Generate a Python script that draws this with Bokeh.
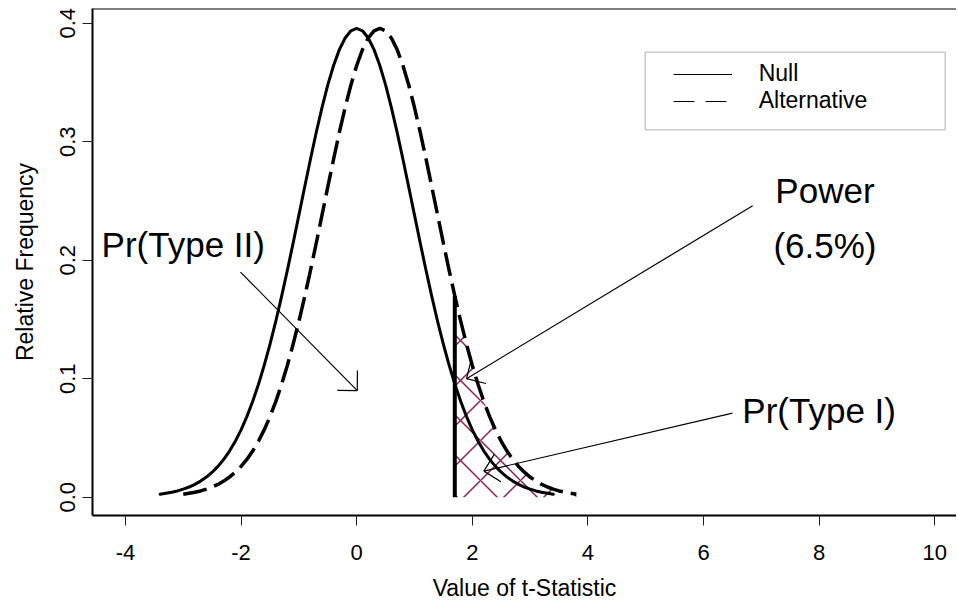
import math
from bokeh.plotting import figure
from bokeh.models import (Range1d, FixedTicker, PrintfTickFormatter, Legend, LegendItem,
                          BoxAnnotation, Span)
from bokeh.embed import file_html
from bokeh.resources import INLINE
from bokeh.core.properties import value

# ---------------- data ----------------
null_x = [round(-3.4 + 0.1 * i, 1) for i in range(69)]
null_density = [0.0025, 0.0033, 0.0042, 0.0053, 0.0068, 0.0086, 0.0108, 0.0136, 0.0170, 0.0211,
                0.0260, 0.0319, 0.0389, 0.0472, 0.0568, 0.0680, 0.0807, 0.0951, 0.1112, 0.1290,
                0.1483, 0.1692, 0.1913, 0.2143, 0.2380, 0.2618, 0.2852, 0.3078, 0.3288, 0.3479,
                0.3643, 0.3777, 0.3875, 0.3936, 0.3956, 0.3936, 0.3875, 0.3777, 0.3643, 0.3479,
                0.3288, 0.3078, 0.2852, 0.2618, 0.2380, 0.2143, 0.1913, 0.1692, 0.1483, 0.1290,
                0.1112, 0.0951, 0.0807, 0.0680, 0.0568, 0.0472, 0.0389, 0.0319, 0.0260, 0.0211,
                0.0170, 0.0136, 0.0108, 0.0086, 0.0068, 0.0053, 0.0042, 0.0033, 0.0025]

alt_x = [round(-3.0 + 0.1 * i, 1) for i in range(69)]
alt_density = [0.0025, 0.0033, 0.0042, 0.0053, 0.0068, 0.0086, 0.0108, 0.0136, 0.0170, 0.0211,
               0.0260, 0.0319, 0.0389, 0.0472, 0.0568, 0.0680, 0.0807, 0.0951, 0.1112, 0.1290,
               0.1483, 0.1692, 0.1913, 0.2143, 0.2380, 0.2618, 0.2852, 0.3078, 0.3288, 0.3479,
               0.3643, 0.3777, 0.3875, 0.3936, 0.3956, 0.3936, 0.3875, 0.3777, 0.3643, 0.3479,
               0.3288, 0.3078, 0.2852, 0.2618, 0.2380, 0.2143, 0.1913, 0.1692, 0.1483, 0.1290,
               0.1112, 0.0951, 0.0807, 0.0680, 0.0568, 0.0472, 0.0389, 0.0319, 0.0260, 0.0211,
               0.0170, 0.0136, 0.0108, 0.0086, 0.0068, 0.0053, 0.0042, 0.0033, 0.0025]

crit_value = 1.697
crit_density = 0.1698

x_ticks = [-4, -2, 0, 2, 4, 6, 8, 10]
x_tick_labels = ["-4", "-2", "0", "2", "4", "6", "8", "10"]
y_ticks = [0.0, 0.1, 0.2, 0.3, 0.4]

legend_labels = ["Null", "Alternative"]

label_text = ["Pr(Type II)", "Power", "(6.5%)", "Pr(Type I)"]
label_x = [-3.0, 8.1, 8.1, 8.0]
label_y = [0.213, 0.259, 0.212, 0.073]

arrow_x0 = [-2.01, 6.85, 6.50]
arrow_y0 = [0.190, 0.246, 0.071]
arrow_x1 = [0.01, 1.90, 2.20]
arrow_y1 = [0.090, 0.100, 0.022]

# ---------------- layout ----------------
FONT = "Liberation Sans"
W, H = 956, 607
BL, BR, BT, BB = 92, 0, 8, 92
frame_w = W - BL - BR
frame_h = H - BT - BB
x0r = -4.570
x1r = x0r + frame_w / 57.81
y0r = -0.01544
y1r = y0r + frame_h / 1185.0
XS = frame_w / (x1r - x0r)
YS = frame_h / (y1r - y0r)

p = figure(width=W, height=H, output_backend="svg", toolbar_location=None,
           x_range=Range1d(x0r, x1r), y_range=Range1d(y0r, y1r),
           min_border_left=BL, min_border_right=BR, min_border_top=BT, min_border_bottom=BB,
           background_fill_color="white", border_fill_color="white")
p.outline_line_color = None
p.grid.visible = False

# axes
for ax in (p.xaxis[0], p.yaxis[0]):
    ax.axis_line_width = 2
    ax.axis_line_color = "black"
    ax.major_tick_line_color = "#222222"
    ax.major_tick_line_width = 1
    ax.major_tick_in = 0
    ax.major_tick_out = 10
    ax.minor_tick_line_color = None
    ax.major_label_text_font = FONT
    ax.major_label_text_font_size = "22px"
    ax.major_label_text_color = "black"
    ax.axis_label_text_font = FONT
    ax.axis_label_text_font_size = "23px"
    ax.axis_label_text_font_style = "normal"
    ax.axis_label_text_color = "black"

p.xaxis.ticker = FixedTicker(ticks=x_ticks)
p.xaxis.major_label_overrides = {t: s for t, s in zip(x_ticks, x_tick_labels)}
p.yaxis.ticker = FixedTicker(ticks=y_ticks)
p.yaxis.formatter = PrintfTickFormatter(format="%.1f")
p.yaxis.major_label_orientation = "vertical"
p.xaxis.axis_label = "Value of t-Statistic"
p.yaxis.axis_label = "Relative Frequency"
p.xaxis.major_label_standoff = 19
p.xaxis.axis_label_standoff = 12
p.yaxis.major_label_standoff = 7
p.yaxis.axis_label_standoff = 20

# top border of the box
p.add_layout(Span(location=y1r, dimension="width", line_color="black", line_width=2))

# hatched rejection region under the alternative
hatch_x = [crit_value] + [x for x in alt_x if x > crit_value]
hatch_top = [crit_density] + [d for x, d in zip(alt_x, alt_density) if x > crit_value]
p.varea(x=hatch_x, y1=[0] * len(hatch_x), y2=hatch_top, fill_alpha=0,
        hatch_pattern="x", hatch_color="#8E1F55", hatch_scale=40, hatch_weight=1.5)

# curves
p.line(null_x, null_density, line_color="black", line_width=3, line_cap="round", line_join="round")
p.line(alt_x, alt_density, line_color="black", line_width=3.5, line_dash="24 8", line_cap="butt",
       line_join="round")

# critical value line
p.segment(x0=[crit_value], y0=[0], x1=[crit_value], y1=[crit_density],
          line_color="black", line_width=4)

# arrows: shafts + open heads (45 degree, 20 px)
p.segment(x0=arrow_x0, y0=arrow_y0, x1=arrow_x1, y1=arrow_y1, line_color="black", line_width=1.2)
hx0, hy0, hx1, hy1 = [], [], [], []
HEAD = 20
for xa, ya, xb, yb in zip(arrow_x0, arrow_y0, arrow_x1, arrow_y1):
    a = math.atan2((ya - yb) * YS, (xa - xb) * XS)
    for s in (math.radians(45), -math.radians(45)):
        hx0.append(xb)
        hy0.append(yb)
        hx1.append(xb + HEAD * math.cos(a + s) / XS)
        hy1.append(yb + HEAD * math.sin(a + s) / YS)
p.segment(x0=hx0, y0=hy0, x1=hx1, y1=hy1, line_color="black", line_width=1.2)

# annotation texts
p.text(x=label_x, y=label_y, text=label_text, text_font=value(FONT), text_font_size="35px",
       text_align="center", text_baseline="middle", text_color="black")

# legend
nan = float("nan")
r_null = p.line([nan], [nan], line_color="black", line_width=1)
r_alt = p.line([nan], [nan], line_color="black", line_width=1, line_dash="21 11")
legend = Legend(items=[LegendItem(label=legend_labels[0], renderers=[r_null]),
                       LegendItem(label=legend_labels[1], renderers=[r_alt])],
                location=(580.7, 401), padding=0, spacing=0, margin=0,
                glyph_width=59, glyph_height=26, label_standoff=27,
                label_text_font=FONT, label_text_font_size="23px", label_text_color="black",
                border_line_alpha=0, background_fill_alpha=0)
p.add_layout(legend)
p.add_layout(BoxAnnotation(left=552.7, right=852.7, top=463.3, bottom=385.7,
                           left_units="screen", right_units="screen",
                           top_units="screen", bottom_units="screen",
                           fill_alpha=0, line_color="#333333", line_width=1.3))

open("out.html", "w").write(file_html(p, INLINE))
